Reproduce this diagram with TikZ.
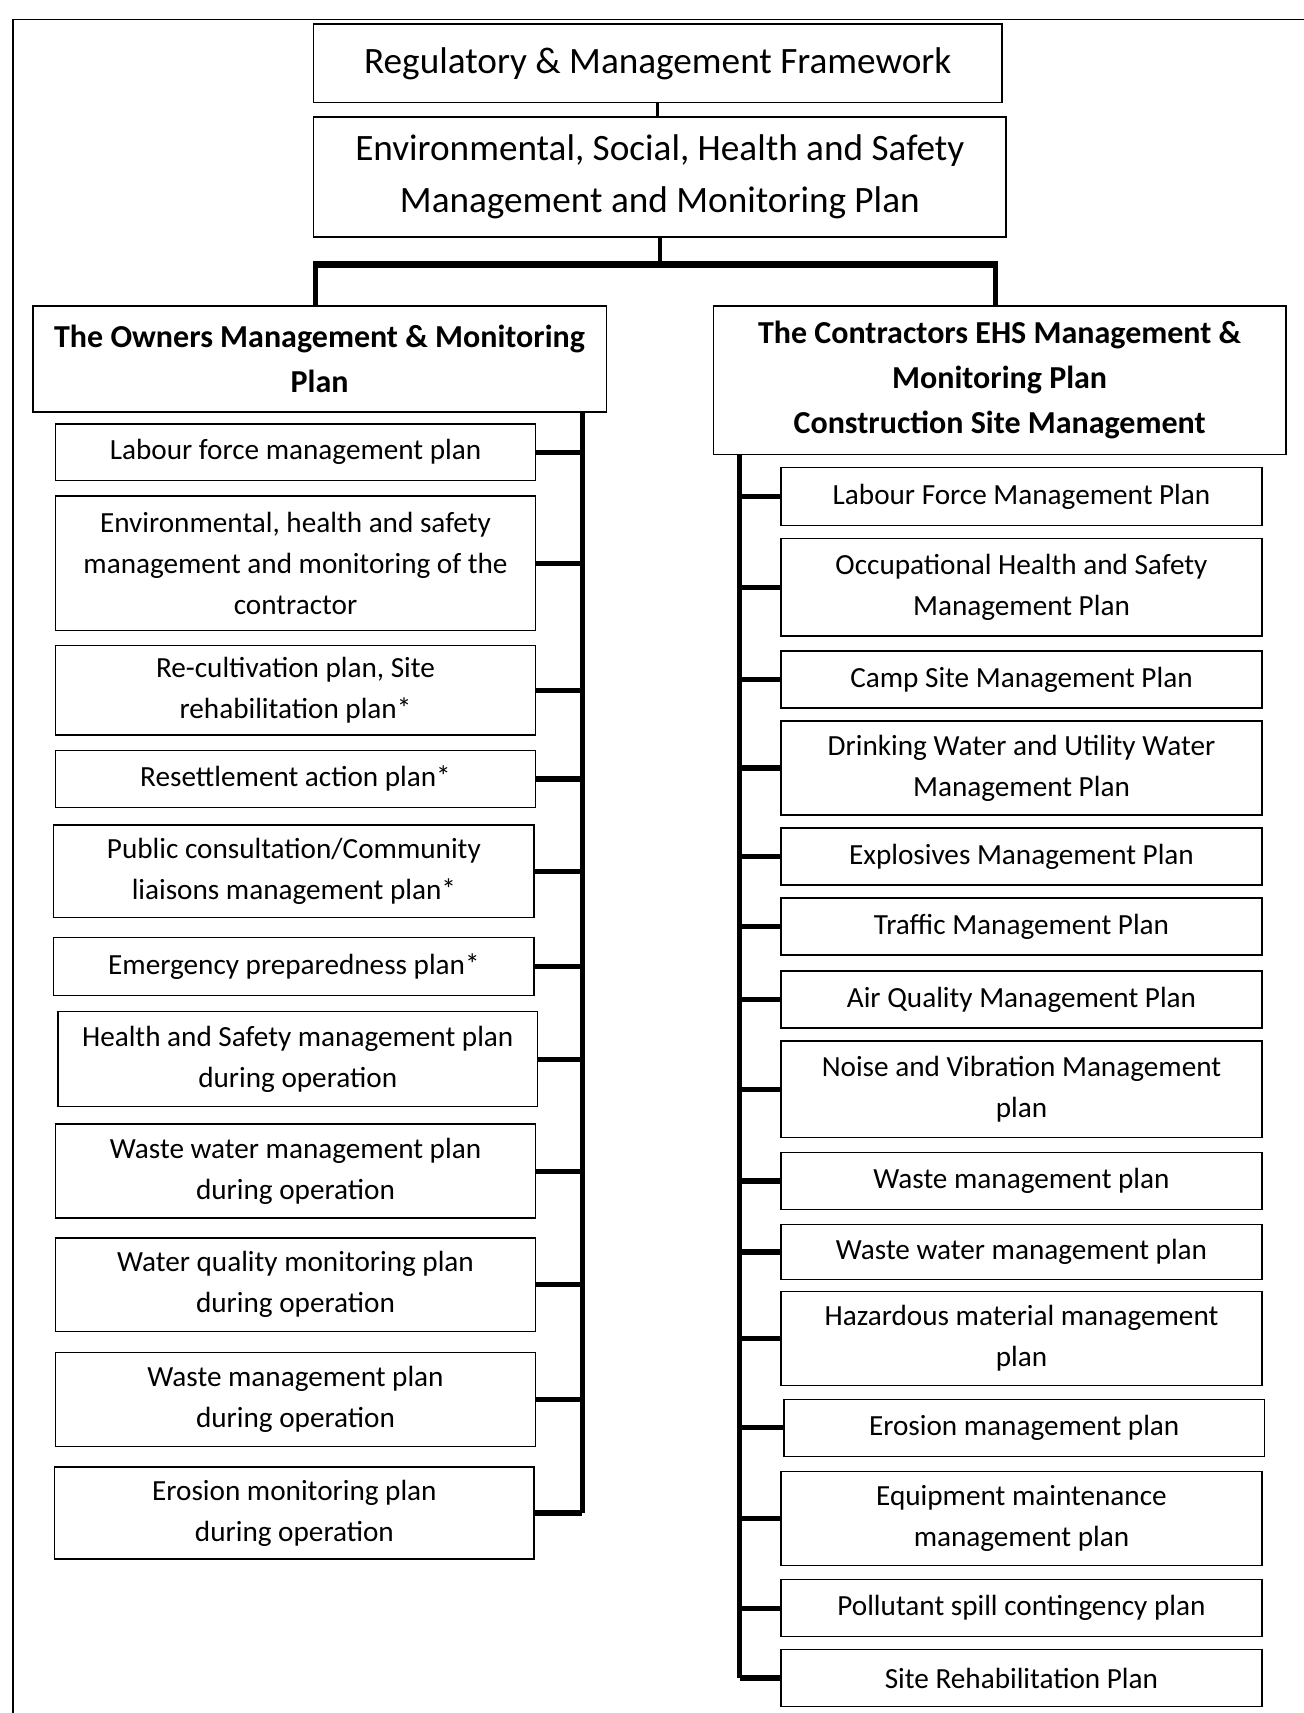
\documentclass[tikz,border=0pt]{standalone}
\usepackage{fontspec}
\setmainfont{Carlito}
\tikzset{
  titre/.style={draw, line width=0.8pt, align=center, inner sep=0pt,
    font=\fontsize{18.6}{26.2}\selectfont},
  entete/.style={draw, line width=0.8pt, align=center, inner sep=0pt,
    font=\fontsize{16}{22.4}\selectfont\bfseries},
  plan/.style={draw, line width=0.75pt, align=center, inner sep=0pt,
    font=\fontsize{14.6}{20.5}\selectfont},
  lien/.style={line width=1.8pt},
  barre/.style={line width=3.2pt},
  tige/.style={line width=2.3pt},
  branche/.style={line width=2.6pt}
}
\begin{document}
\begin{tikzpicture}[x=0.5461pt, y=-0.5461pt]
\def\u{0.5461pt}
\useasboundingbox (0,0) rectangle (1193,1568);

% cadre de la page
\draw[line width=0.8pt] (12,1580) -- (12,18) -- (1200,18);

% cadre réglementaire et plan général
\node[titre, minimum width=630*\u, minimum height=72*\u] (cadre) at (602,58)
  {Regulatory \& Management Framework};
\node[titre, minimum width=634*\u, minimum height=110*\u] (plan) at (604,162)
  {Environmental, Social, Health and Safety\\Management and Monitoring Plan};
\draw[lien] (cadre.south) -- (cadre.south |- plan.north);

% les deux plans
\node[entete, minimum width=525*\u, minimum height=97*\u] (own) at (292.5,328.5)
  {The Owners Management \& Monitoring\\Plan};
\node[entete, minimum width=524*\u, minimum height=136*\u] (con) at (915,348)
  {The Contractors EHS Management \&\\Monitoring Plan\\Construction Site Management};

\coordinate (busL) at (289,242);
\coordinate (busR) at (911,242);
\draw[lien] (plan.south) -- (plan.south |- busL);
\draw[barre, line cap=rect] (busL) -- (busR);
\draw[tige] (busL) -- (busL |- own.north);
\draw[tige] (busR) -- (busR |- con.north);

% plans du maître d'ouvrage
\node[plan, minimum width=439*\u, minimum height=52*\u] (o1) at (270.5,414)
  {Labour force management plan};
\node[plan, minimum width=439*\u, minimum height=123*\u] (o2) at (270.5,515.5)
  {Environmental, health and safety\\management and monitoring of the\\contractor};
\node[plan, minimum width=439*\u, minimum height=82*\u] (o3) at (270.5,632)
  {Re-cultivation plan, Site\\rehabilitation plan*};
\node[plan, minimum width=439*\u, minimum height=52*\u] (o4) at (270.5,713)
  {Resettlement action plan*};
\node[plan, minimum width=440*\u, minimum height=85*\u] (o5) at (269,797.5)
  {Public consultation/Community\\liaisons management plan*};
\node[plan, minimum width=440*\u, minimum height=53*\u] (o6) at (269,884.5)
  {Emergency preparedness plan*};
\node[plan, minimum width=439*\u, minimum height=87*\u] (o7) at (272.5,969.5)
  {Health and Safety management plan\\during operation};
\node[plan, minimum width=439*\u, minimum height=86*\u] (o8) at (270.5,1072)
  {Waste water management plan\\during operation};
\node[plan, minimum width=439*\u, minimum height=86*\u] (o9) at (270.5,1176)
  {Water quality monitoring plan\\during operation};
\node[plan, minimum width=439*\u, minimum height=86*\u] (o10) at (270.5,1281)
  {Waste management plan\\during operation};
\node[plan, minimum width=439*\u, minimum height=84*\u] (o11) at (269.5,1385)
  {Erosion monitoring plan\\during operation};

\coordinate (lsp) at (533,0);
\draw[tige] (own.south -| lsp) -- (o11.east -| lsp);
\foreach \i in {1,...,11} {
  \draw[branche] (o\i.east) -- (o\i.east -| lsp);
}

% plans de l'entreprise
\node[plan, minimum width=440*\u, minimum height=53*\u] (c1) at (935,454.5)
  {Labour Force Management Plan};
\node[plan, minimum width=440*\u, minimum height=89*\u] (c2) at (935,537.5)
  {Occupational Health and Safety\\Management Plan};
\node[plan, minimum width=440*\u, minimum height=52*\u] (c3) at (935,622)
  {Camp Site Management Plan};
\node[plan, minimum width=440*\u, minimum height=86*\u] (c4) at (935,703)
  {Drinking Water and Utility Water\\Management Plan};
\node[plan, minimum width=440*\u, minimum height=52*\u] (c5) at (935,784)
  {Explosives Management Plan};
\node[plan, minimum width=440*\u, minimum height=52*\u] (c6) at (935,848)
  {Traffic Management Plan};
\node[plan, minimum width=440*\u, minimum height=52*\u] (c7) at (935,915)
  {Air Quality Management Plan};
\node[plan, minimum width=440*\u, minimum height=88*\u] (c8) at (935,997)
  {Noise and Vibration Management\\plan};
\node[plan, minimum width=440*\u, minimum height=52*\u] (c9) at (935,1081)
  {Waste management plan};
\node[plan, minimum width=440*\u, minimum height=50*\u] (c10) at (935,1146)
  {Waste water management plan};
\node[plan, minimum width=440*\u, minimum height=86*\u] (c11) at (935,1225)
  {Hazardous material management\\plan};
\node[plan, minimum width=440*\u, minimum height=52*\u] (c12) at (937.5,1307)
  {Erosion management plan};
\node[plan, minimum width=440*\u, minimum height=86*\u] (c13) at (935,1390)
  {Equipment maintenance\\management plan};
\node[plan, minimum width=440*\u, minimum height=52*\u] (c14) at (935,1472)
  {Pollutant spill contingency plan};
\node[plan, minimum width=440*\u, minimum height=52*\u] (c15) at (935,1536)
  {Site Rehabilitation Plan};

\coordinate (rsp) at (677,0);
\draw[tige] (con.south -| rsp) -- (c15.west -| rsp);
\foreach \i in {1,...,15} {
  \draw[branche] (c\i.west) -- (c\i.west -| rsp);
}
\end{tikzpicture}
\end{document}
